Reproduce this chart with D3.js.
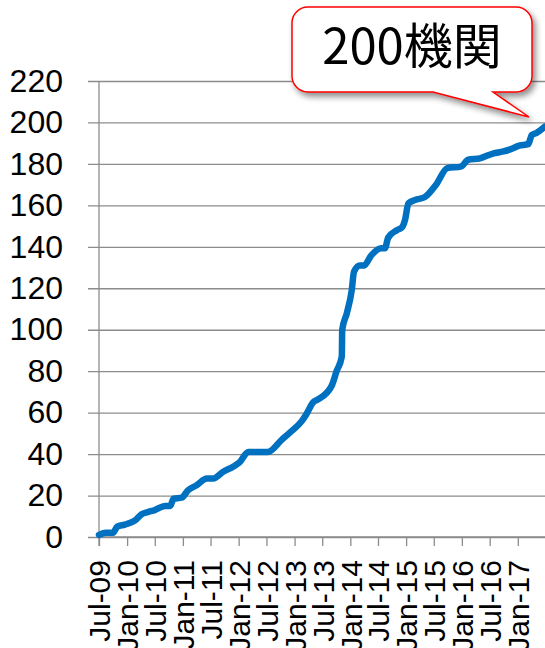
<!DOCTYPE html>
<html>
<head>
<meta charset="utf-8">
<script src="https://cdn.jsdelivr.net/npm/d3@7"></script>
<style>
html,body{margin:0;padding:0;background:#fff;}
svg{display:block;}
</style>
</head>
<body>
<svg id="chart" width="545" height="648"></svg>
<script>
// ---- data ----
const dates = ["2009-07-01","2009-08-15","2009-10-01","2009-10-28","2009-12-18","2010-02-22","2010-04-06","2010-05-16","2010-07-01","2010-09-06","2010-10-10","2010-11-01","2010-12-25","2011-02-03","2011-04-01","2011-06-07","2011-07-19","2011-09-22","2011-11-28","2012-01-10","2012-03-04","2012-07-10","2012-10-10","2012-12-03","2013-02-18","2013-03-21","2013-05-03","2013-06-06","2013-09-01","2013-10-03","2013-11-06","2013-11-09","2013-12-09","2014-01-10","2014-01-25","2014-03-04","2014-04-01","2014-05-19","2014-07-24","2014-08-15","2014-09-06","2014-11-01","2014-12-06","2014-12-25","2015-01-16","2015-03-01","2015-05-04","2015-07-16","2015-09-28","2015-12-25","2016-02-12","2016-04-28","2016-07-22","2016-09-28","2016-11-12","2017-01-10","2017-03-10","2017-04-03","2017-05-04","2017-06-28"];
const counts = [1,2,2,5,6,8,11,12,13,15,15,18.5,19,22.5,25,28.2,28.2,31.5,34,36.3,41,41,47,50.5,56,59.5,65,66.5,73,80,87,100,108,119,128,131,131,136,139.3,139.3,144.5,148,149.5,153,161,162.6,164,170,178,178.7,182,182.7,185,186,187,188.8,189.5,194,195,198];
const yTicks = [0,20,40,60,80,100,120,140,160,180,200,220];
const xTickDates = ["2009-07-01","2010-01-01","2010-07-01","2011-01-01","2011-07-01","2012-01-01","2012-07-01","2013-01-01","2013-07-01","2014-01-01","2014-07-01","2015-01-01","2015-07-01","2016-01-01","2016-07-01","2017-01-01"];
const xDomain = ["2009-07-01","2017-06-28"];
const calloutText = "200機関";

// ---- chart ----
(function(){
const parse = d3.timeParse("%Y-%m-%d");
const fmt = d3.timeFormat("%b-%y");
const svg = d3.select("#chart");
const L = 99, R = 545, T = 81, B = 537;

const x = d3.scaleTime().domain(xDomain.map(parse)).range([L, R]);
const y = d3.scaleLinear().domain([0, 220]).range([B, T]);

const defs = svg.append("defs");
const f = defs.append("filter").attr("id","shadow").attr("x","-20%").attr("y","-20%").attr("width","150%").attr("height","160%");
f.append("feGaussianBlur").attr("in","SourceAlpha").attr("stdDeviation",3);
f.append("feOffset").attr("dx",3).attr("dy",4).attr("result","ob");
f.append("feComponentTransfer").append("feFuncA").attr("type","linear").attr("slope",0.45);
const fm = f.append("feMerge");
fm.append("feMergeNode");
fm.append("feMergeNode").attr("in","SourceGraphic");

// gridlines + y axis
const yAxis = d3.axisLeft(y).tickValues(yTicks).tickSize(-(R - L)).tickPadding(25).tickSizeOuter(0);
const gy = svg.append("g").attr("transform",`translate(${L},0)`).call(yAxis);
gy.select(".domain").remove();
gy.selectAll(".tick line").attr("stroke","#8c8c8c").attr("stroke-width",1.3).attr("x1",-11);
gy.selectAll(".tick text").attr("font-family","'Liberation Sans', Arial, sans-serif").attr("font-size",32).attr("fill","#000").attr("x",-36);

svg.append("line").attr("x1",L).attr("x2",L).attr("y1",y(220)).attr("y2",B+9)
  .attr("stroke","#8c8c8c").attr("stroke-width",1.3);

// x axis
const xAxis = d3.axisBottom(x).tickValues(xTickDates.map(parse)).tickSize(9).tickFormat(fmt).tickSizeOuter(0);
const gx = svg.append("g").attr("transform",`translate(0,${B})`).call(xAxis);
gx.select(".domain").remove();
gx.selectAll(".tick line").attr("stroke","#8c8c8c").attr("stroke-width",1.3);
gx.selectAll(".tick text")
  .attr("font-family","'Liberation Sans', Arial, sans-serif").attr("font-size",30).attr("fill","#000")
  .attr("text-anchor","end").attr("transform","translate(0,23) rotate(-90)")
  .attr("x",0).attr("y",0).attr("dy","0.36em");
svg.append("line").attr("x1",L).attr("x2",R).attr("y1",B).attr("y2",B)
  .attr("stroke","#8c8c8c").attr("stroke-width",1.3);

// line
const pts = dates.map((d,i)=>({d:parse(d), v:counts[i]}));
svg.append("path").datum(pts)
  .attr("fill","none").attr("stroke","#0070C0").attr("stroke-width",6.5)
  .attr("stroke-linejoin","round").attr("stroke-linecap","round")
  .attr("d", d3.line().x(p=>x(p.d)).y(p=>y(p.v)).curve(d3.curveMonotoneX));

// callout
const cx0 = 292, cy0 = 7, cw = 240, ch = 85, r = 16;
const tail = [[433, cy0+ch],[529,117],[493, cy0+ch]];
const p = d3.path();
p.moveTo(cx0+r, cy0);
p.lineTo(cx0+cw-r, cy0); p.arcTo(cx0+cw, cy0, cx0+cw, cy0+r, r);
p.lineTo(cx0+cw, cy0+ch-r); p.arcTo(cx0+cw, cy0+ch, cx0+cw-r, cy0+ch, r);
p.lineTo(tail[2][0], tail[2][1]); p.lineTo(tail[1][0], tail[1][1]); p.lineTo(tail[0][0], tail[0][1]);
p.lineTo(cx0+r, cy0+ch); p.arcTo(cx0, cy0+ch, cx0, cy0+ch-r, r);
p.lineTo(cx0, cy0+r); p.arcTo(cx0, cy0, cx0+r, cy0, r);
p.closePath();
svg.append("path").attr("d", p.toString()).attr("fill","#fff").attr("stroke","#ff0000").attr("stroke-width",1.5).attr("filter","url(#shadow)");
svg.append("text").attr("x", cx0+cw/2).attr("y", 64).attr("text-anchor","middle")
  .attr("font-family","'Noto Sans CJK JP', sans-serif").attr("font-size",49).attr("fill","#000")
  .text(calloutText);
})();
</script>
</body>
</html>
